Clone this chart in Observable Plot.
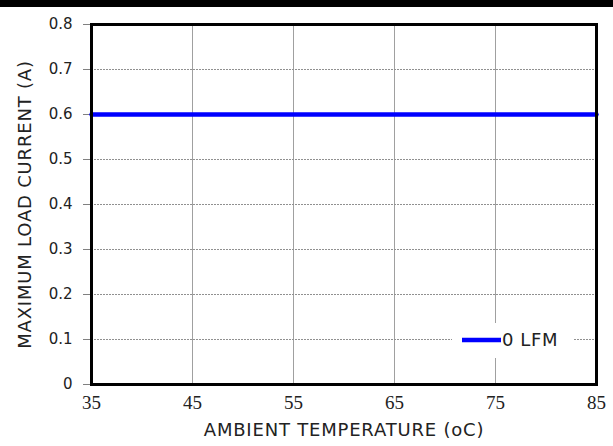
<!DOCTYPE html>
<html><head><meta charset="utf-8">
<script src="https://cdn.jsdelivr.net/npm/d3@7"></script>
<script src="https://cdn.jsdelivr.net/npm/@observablehq/plot@0.6"></script>
<style>
body{margin:0;background:#fff}
#bar{height:7px;background:#000;width:613px}
#chart svg{display:block}
#chart svg text.serif{font-family:"Times New Roman","Liberation Serif","DejaVu Serif",serif !important}
</style>
</head><body><div id="bar"></div><div id="chart"></div>
<script>
const temperatures = [35, 85];
const current0LFM = [0.6, 0.6];
const seriesName = "0 LFM";
const xTicks = [35, 45, 55, 65, 75, 85];
const yTicks = [0, 0.1, 0.2, 0.3, 0.4, 0.5, 0.6, 0.7, 0.8];
const xTitle = "AMBIENT TEMPERATURE (oC)";
const yTitle = "MAXIMUM LOAD CURRENT (A)";

const data = temperatures.map((t, i) => ({t, a: current0LFM[i]}));

const W = 613, H = 439, mT = 17, mB = 62, mL = 91, mR = 17;
const plot = Plot.plot({
  width: W, height: H, marginTop: mT, marginBottom: mB, marginLeft: mL, marginRight: mR,
  style: {fontSize: "15px", background: "white", color: "black"},
  x: {domain: [35, 85], axis: null},
  y: {domain: [0, 0.8], ticks: yTicks},
  marks: [
    Plot.gridX(xTicks.slice(1, -1), {stroke: "#a0a0a0", strokeOpacity: 1, strokeWidth: 1}),
    Plot.gridY(yTicks.slice(1, -1), {stroke: "#909090", strokeOpacity: 1, strokeWidth: 1, strokeDasharray: "2,1"}),
    Plot.axisY(yTicks, {tickSize: 8, tickPadding: 11, stroke: "#808080", fill: "#222", fontSize: 15,
      fontFamily: "DejaVu Sans", tickFormat: d => d === 0 ? "0" : d.toFixed(1), label: null}),
    Plot.text(xTicks, {x: d => d, frameAnchor: "bottom", dy: 24, text: d => String(d),
      fontFamily: "Liberation Serif, DejaVu Serif, serif", fontSize: 19, fill: "#222", textAnchor: "middle"}),
    Plot.line(data, {x: "t", y: "a", stroke: "#0000ff", strokeWidth: 4.5}),
    Plot.frame({stroke: "black", strokeWidth: 3}),
    Plot.text([yTitle], {frameAnchor: "left", rotate: -90, dx: -66, textAnchor: "middle", fontSize: 18, fontFamily: "DejaVu Sans", fill: "#222"}),
    Plot.text([xTitle], {frameAnchor: "bottom", dy: 51, textAnchor: "middle", fontSize: 18, fontFamily: "DejaVu Sans", fill: "#222"})
  ]
});

const svg = d3.select(plot);
const tickStrings = xTicks.map(String);
svg.selectAll("text").filter(function () { return tickStrings.includes(this.textContent) && !this.closest('g[aria-label="y-axis tick label"]'); })
  .classed("serif", true)
  .attr("font-family", "Liberation Serif, DejaVu Serif, serif");
svg.selectAll("text").filter(function () { return this.textContent === xTitle || this.textContent === yTitle; })
  .style("letter-spacing", "0.8px");

const right = W - mR, bottom = H - mB;
const lg = svg.append("g");
const ly = bottom - 44;
lg.append("rect").attr("x", right - 144).attr("y", ly - 17).attr("width", 121).attr("height", 35).attr("fill", "white");
lg.append("line").attr("x1", right - 134).attr("x2", right - 95).attr("y1", ly).attr("y2", ly)
  .attr("stroke", "#0000ff").attr("stroke-width", 4.5);
lg.append("text").attr("x", right - 94).attr("y", ly).attr("dy", "0.36em").attr("text-anchor", "start")
  .attr("font-family", "DejaVu Sans").attr("font-size", 18).style("letter-spacing", "0.6px")
  .attr("fill", "#222").text(seriesName);

document.getElementById("chart").appendChild(plot);
</script>
</body></html>
